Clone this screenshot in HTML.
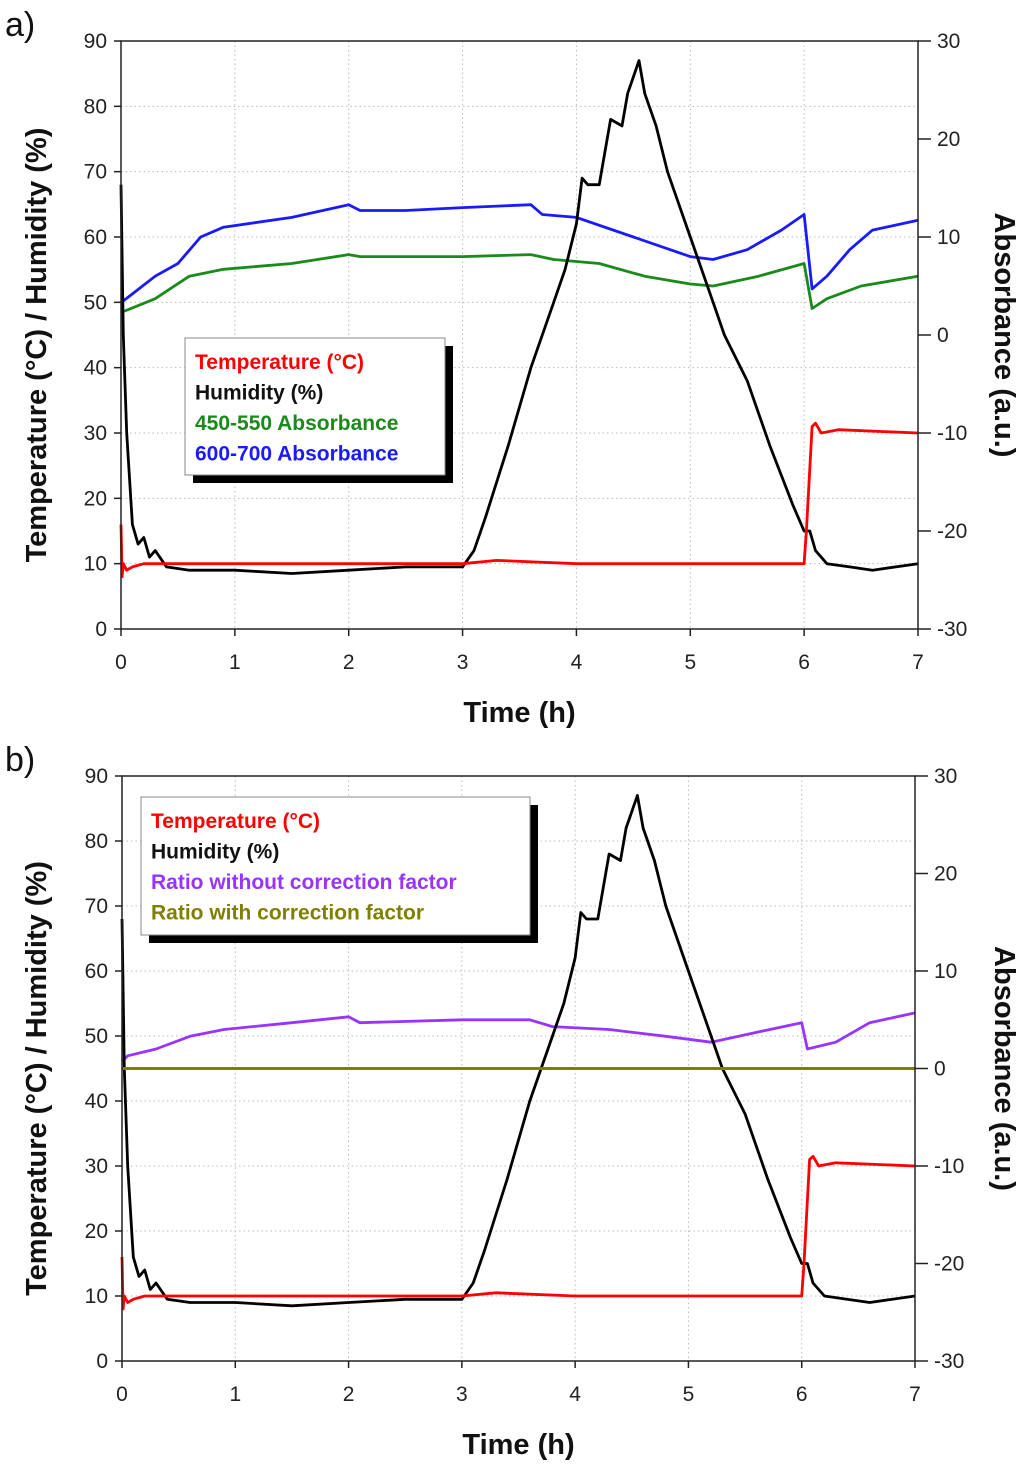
<!DOCTYPE html>
<html><head><meta charset="utf-8"><style>
html,body{margin:0;padding:0;background:#fff}
svg{display:block}
text{font-family:"Liberation Sans",Arial,sans-serif}
</style></head><body>
<svg id="fig" width="1024" height="1470" viewBox="0 0 1024 1470" xmlns="http://www.w3.org/2000/svg"></svg>
<script>
// ---- shared data ----
const humT = [0,0.02,0.05,0.1,0.15,0.2,0.25,0.3,0.4,0.6,1.0,1.5,2.0,2.5,3.0,3.1,3.2,3.4,3.6,3.8,3.9,4.0,4.05,4.1,4.2,4.3,4.4,4.45,4.55,4.6,4.7,4.8,5.0,5.2,5.3,5.5,5.7,5.9,6.0,6.05,6.1,6.2,6.4,6.6,7.0];
const humV = [68,45,30,16,13,14,11,12,9.5,9,9,8.5,9,9.5,9.5,12,17,28,40,50,55,62,69,68,68,78,77,82,87,82,77,70,60,50,45,38,28,19,15,15,12,10,9.5,9,10];
const tempT = [0,0.01,0.02,0.05,0.1,0.2,1,2,3,3.3,4,5,6,6.02,6.07,6.1,6.15,6.3,7];
const tempV = [16,8,10,9,9.5,10,10,10,10,10.5,10,10,10,15,31,31.5,30,30.5,30];
// panel a absorbance (right axis)
const absT = [0,0.3,0.5,0.7,0.9,1.5,2.0,2.1,2.5,3.0,3.6,3.7,4.0,4.5,5.0,5.2,5.5,5.8,6.0,6.07,6.2,6.4,6.6,7.0];
const blueV = [3.3,6,7.3,10,11,12,13.3,12.7,12.7,13,13.3,12.3,12,10,8,7.7,8.7,10.7,12.3,4.7,6,8.7,10.7,11.7];
const greenT = [0,0.3,0.6,0.9,1.5,2.0,2.1,3.0,3.6,3.8,4.2,4.6,5.0,5.2,5.6,6.0,6.07,6.2,6.5,7.0];
const greenV = [2.3,3.7,6,6.7,7.3,8.2,8,8,8.2,7.7,7.3,6,5.2,5,6,7.3,2.7,3.7,5,6];
// panel b ratios
const purpT = [0,0.05,0.3,0.6,0.9,1.5,2.0,2.1,3.0,3.6,3.8,4.3,4.8,5.2,5.6,6.0,6.05,6.3,6.6,7.0];
const purpV = [0.7,1.3,2,3.3,4,4.7,5.3,4.7,5,5,4.3,4,3.3,2.7,3.7,4.7,2,2.7,4.7,5.7];
const oliveT = [0,7];
const oliveV = [0,0];
const xTicks = [0,1,2,3,4,5,6,7];
const yTicks = [0,10,20,30,40,50,60,70,80,90];
const rTicks = [-30,-20,-10,0,10,20,30];

const NS="http://www.w3.org/2000/svg";
const svg=document.getElementById('fig');
function mk(tag,attrs,parent){const e=document.createElementNS(NS,tag);for(const k in attrs)e.setAttribute(k,attrs[k]);(parent||svg).appendChild(e);return e;}

function panel(p){
  const g=mk('g',{});
  
  
  const X=t=>p.x0+(p.x1-p.x0)*t/7;
  const Y=v=>p.y1+(p.y0-p.y1)*v/90;
  const R=v=>p.y1+(p.y0-p.y1)*(v+30)/60;
  for(const t of xTicks){ if(t>0&&t<7) mk('line',{x1:X(t),x2:X(t),y1:p.y0,y2:p.y1,stroke:'#bbb','stroke-width':1,'stroke-dasharray':'1.5,3'},g); }
  for(const v of yTicks){ if(v>0&&v<90) mk('line',{x1:p.x0,x2:p.x1,y1:Y(v),y2:Y(v),stroke:'#bbb','stroke-width':1,'stroke-dasharray':'1.5,3'},g); }
  const line=(T,V,f,c,n,w)=>{let d='';T.forEach((t,i)=>{d+=(i?'L':'M')+X(t).toFixed(1)+','+f(V[i]).toFixed(1)});const e=mk('path',{d:d,fill:'none',stroke:c,'stroke-width':w||2.8,'stroke-linejoin':'round'},g);};
  p.series.forEach(s=>line(s.t,s.v,s.right?R:Y,s.c,s.n,s.w));
  mk('rect',{x:p.x0,y:p.y0,width:p.x1-p.x0,height:p.y1-p.y0,fill:'none',stroke:'#222','stroke-width':1.5},g);
  for(const t of xTicks){mk('line',{x1:X(t),x2:X(t),y1:p.y1,y2:p.y1+7,stroke:'#222','stroke-width':1.5},g);
    const tx=mk('text',{x:X(t),y:p.y1+40,'text-anchor':'middle','font-size':21,fill:'#222'},g);tx.textContent=t;
    }
  for(const v of yTicks){mk('line',{x1:p.x0-7,x2:p.x0,y1:Y(v),y2:Y(v),stroke:'#222','stroke-width':1.5},g);
    const tx=mk('text',{x:p.x0-14,y:Y(v)+7,'text-anchor':'end','font-size':21,fill:'#222'},g);tx.textContent=v;
    }
  for(const v of rTicks){mk('line',{x1:p.x1,x2:p.x1+13,y1:R(v),y2:R(v),stroke:'#222','stroke-width':1.5},g);
    const tx=mk('text',{x:p.x1+19,y:R(v)+7,'text-anchor':'start','font-size':21,fill:'#222'},g);tx.textContent=v;
    }
  const xt=mk('text',{x:(p.x0+p.x1)/2,y:p.y1+93,'text-anchor':'middle','font-size':29,'font-weight':'bold',fill:'#111'},g);xt.textContent='Time (h)';
  
  const yc=(p.y0+p.y1)/2+10;
  const yt=mk('text',{x:0,y:0,transform:`translate(46,${yc}) rotate(-90)`,'text-anchor':'middle','font-size':29,'font-weight':'bold',fill:'#111'},g);yt.textContent='Temperature (°C) / Humidity (%)';
  
  const rt=mk('text',{x:0,y:0,transform:`translate(995,${(p.y0+p.y1)/2}) rotate(90)`,'text-anchor':'middle','font-size':29,'font-weight':'bold',fill:'#111'},g);rt.textContent='Absorbance (a.u.)';
  
  const pl=mk('text',{x:5,y:p.y0-5,'font-size':34,fill:'#111'},g);pl.textContent=p.label;
  
  const L=p.legend;
  const lg=mk('g',{},g);
  
  mk('rect',{x:L.x+8,y:L.y+8,width:L.w,height:L.h,fill:'#000'},lg);
  mk('rect',{x:L.x,y:L.y,width:L.w,height:L.h,fill:'#fff',stroke:'#888','stroke-width':1},lg);
  L.items.forEach((it,i)=>{const t=mk('text',{x:L.x+10,y:L.y+31+i*30.5,'font-size':21,'font-weight':'bold',fill:it.c},lg);t.textContent=it.s;
    });
}

panel({name:'panel-a',label:'a)',x0:121,x1:918,y0:41,y1:629,
  series:[{t:greenT,v:greenV,c:'#1a8a1a',n:'absorbance-450-550',right:true},
          {t:absT,v:blueV,c:'#1a1aff',n:'absorbance-600-700',right:true},
          {t:humT,v:humV,c:'#000',n:'humidity-line'},
          {t:tempT,v:tempV,c:'#ff0000',n:'temperature-line'}],
  legend:{x:185,y:338,w:260,h:137,items:[{s:'Temperature (°C)',c:'#ff0000'},{s:'Humidity (%)',c:'#111'},{s:'450-550 Absorbance',c:'#1a8a1a'},{s:'600-700 Absorbance',c:'#1a1aff'}]}});
panel({name:'panel-b',label:'b)',x0:122,x1:915,y0:776,y1:1361,
  series:[{t:purpT,v:purpV,c:'#9933ff',n:'ratio-without-correction',right:true},
          {t:humT,v:humV,c:'#000',n:'humidity-line'},
          {t:tempT,v:tempV,c:'#ff0000',n:'temperature-line'},
          {t:oliveT,v:oliveV,c:'#808000',n:'ratio-with-correction',right:true,w:3}],
  legend:{x:141,y:797,w:389,h:138,items:[{s:'Temperature (°C)',c:'#ff0000'},{s:'Humidity (%)',c:'#111'},{s:'Ratio without correction factor',c:'#9933ff'},{s:'Ratio with correction factor',c:'#808000'}]}});
</script>
</body></html>
